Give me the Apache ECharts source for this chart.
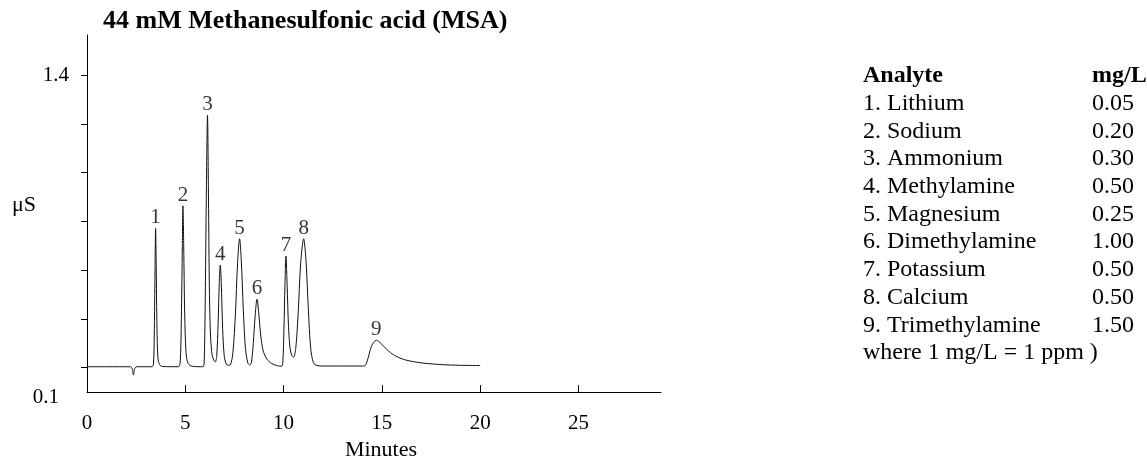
<!DOCTYPE html>
<html>
<head>
<meta charset="utf-8">
<script src="https://cdn.jsdelivr.net/npm/echarts@6/dist/echarts.min.js"></script>
<style>
  html, body { margin: 0; padding: 0; background: #fff; }
  #chart { width: 1147px; height: 466px; }
</style>
</head>
<body>
<div id="chart"></div>
<script>
// Cation separation with 44 mM MSA eluent: conductivity trace (µS) vs. retention time (min)
const chartTitle = '44 mM Methanesulfonic acid (MSA)';
const xAxisName = 'Minutes';
const yAxisName = 'μS';

// Detector trace, sampled along the run
const timeMin = [
  0.00, 1.00, 2.20, 2.30, 2.36, 2.42, 2.52,
  3.30, 3.38, 3.42, 3.46, 3.49, 3.52, 3.56, 3.61, 3.70, 3.85,
  4.65, 4.74, 4.80, 4.85, 4.88, 4.92, 4.97, 5.04, 5.14, 5.35,
  5.90, 5.96, 6.01, 6.07, 6.13, 6.18, 6.23, 6.29, 6.37, 6.47, 6.53,
  6.60, 6.67, 6.73, 6.78, 6.83, 6.90, 6.98, 7.08, 7.20,
  7.30, 7.42, 7.55, 7.66, 7.76, 7.85, 7.95, 8.06, 8.18, 8.28,
  8.36, 8.46, 8.56, 8.65, 8.73, 8.84, 8.96, 9.15, 9.40, 9.70, 9.90,
  9.96, 10.02, 10.07, 10.12, 10.18, 10.25, 10.33, 10.42, 10.51,
  10.62, 10.74, 10.87, 11.02, 11.14, 11.26, 11.38, 11.52, 11.70, 12.00,
  14.00, 14.15, 14.30, 14.48, 14.72, 14.95, 15.25, 15.65, 16.20, 17.00, 18.00, 19.00, 20.00
];
const signal = [
  0.204, 0.204, 0.204, 0.196, 0.170, 0.195, 0.204,
  0.204, 0.215, 0.330, 0.600, 0.772, 0.620, 0.360, 0.240, 0.212, 0.205,
  0.204, 0.220, 0.400, 0.700, 0.864, 0.700, 0.420, 0.260, 0.218, 0.206,
  0.204, 0.220, 0.450, 0.900, 1.235, 0.900, 0.500, 0.320, 0.250, 0.228, 0.224,
  0.250, 0.380, 0.550, 0.621, 0.550, 0.360, 0.250, 0.215, 0.210,
  0.212, 0.260, 0.420, 0.630, 0.729, 0.640, 0.440, 0.280, 0.220, 0.211,
  0.220, 0.300, 0.420, 0.482, 0.430, 0.330, 0.270, 0.235, 0.217, 0.208, 0.206,
  0.220, 0.360, 0.540, 0.658, 0.540, 0.370, 0.280, 0.250, 0.243,
  0.280, 0.420, 0.630, 0.729, 0.640, 0.440, 0.280, 0.220, 0.209, 0.207,
  0.207, 0.209, 0.240, 0.290, 0.313, 0.300, 0.275, 0.250, 0.232, 0.220, 0.213, 0.210, 0.209
];

// Peak identification
const peakNumbers = ['1', '2', '3', '4', '5', '6', '7', '8', '9'];
const peakTimes   = [3.49, 4.88, 6.13, 6.78, 7.76, 8.65, 10.12, 11.02, 14.72];
const peakHeights = [0.772, 0.864, 1.235, 0.621, 0.729, 0.482, 0.658, 0.729, 0.313];

// Axis ticks and labels
const xTickValues = [0, 5, 10, 15, 20, 25];
const yTickValues = [0.2, 0.4, 0.6, 0.8, 1.0, 1.2, 1.4];
const yLabelValues = [0.1, 1.4];

// Analyte table
const tableHeader = ['Analyte', 'mg/L'];
const analytes = [
  '1. Lithium', '2. Sodium', '3. Ammonium', '4. Methylamine', '5. Magnesium',
  '6. Dimethylamine', '7. Potassium', '8. Calcium', '9. Trimethylamine'
];
const concentrations = ['0.05', '0.20', '0.30', '0.50', '0.25', '1.00', '0.50', '0.50', '1.50'];
const tableNote = 'where 1 mg/L = 1 ppm )';

const serif = '"Liberation Serif", "Times New Roman", serif';
const ink = '#000';

const tableX = 863, valueX = 1092, tableTop = 76, rowStep = 27.7;
const tableFont = '24px ' + serif;
const tableBold = 'bold 24px ' + serif;
const overlay = [];
overlay.push({ type: 'text', x: tableX, y: tableTop,
  style: { text: tableHeader[0], font: tableBold, fill: ink, verticalAlign: 'middle' } });
overlay.push({ type: 'text', x: valueX, y: tableTop,
  style: { text: tableHeader[1], font: tableBold, fill: ink, verticalAlign: 'middle' } });
analytes.forEach((name, i) => {
  const y = tableTop + rowStep * (i + 1);
  overlay.push({ type: 'text', x: tableX, y: y,
    style: { text: name, font: tableFont, fill: ink, verticalAlign: 'middle' } });
  overlay.push({ type: 'text', x: valueX, y: y,
    style: { text: concentrations[i], font: tableFont, fill: ink, verticalAlign: 'middle' } });
});
overlay.push({ type: 'text', x: tableX, y: tableTop + rowStep * (analytes.length + 1),
  style: { text: tableNote, font: tableFont, fill: ink, verticalAlign: 'middle' } });

// y-axis unit
overlay.push({ type: 'text', x: 12, y: 205,
  style: { text: yAxisName, font: '22px ' + serif, fill: ink, verticalAlign: 'middle' } });

const chart = echarts.init(document.getElementById('chart'), null, { renderer: 'canvas' });
chart.setOption({
  animation: false,
  backgroundColor: '#fff',
  title: {
    text: chartTitle,
    left: 103, top: 8, padding: 0,
    textStyle: { fontFamily: serif, fontWeight: 'bold', fontSize: 26, color: ink }
  },
  grid: { left: 87, right: 486, top: 35, bottom: 69 },
  xAxis: {
    type: 'value',
    min: 0, max: 29.2, interval: 5,
    name: xAxisName,
    nameLocation: 'middle',
    nameGap: 45,
    nameTextStyle: { fontFamily: serif, fontSize: 22, color: ink, padding: [0, 0, 0, 14] },
    axisLine: { show: true, onZero: false, lineStyle: { color: ink, width: 1 } },
    axisTick: { show: true, inside: true, length: 7, customValues: xTickValues, lineStyle: { color: ink, width: 1 } },
    axisLabel: { customValues: xTickValues, margin: 21, fontFamily: serif, fontSize: 21, color: ink },
    splitLine: { show: false }
  },
  yAxis: {
    type: 'value',
    min: 0.1, max: 1.565,
    axisLine: { show: true, onZero: false, lineStyle: { color: ink, width: 1 } },
    axisTick: { show: true, inside: false, length: 6, customValues: yTickValues, lineStyle: { color: ink, width: 1 } },
    axisLabel: {
      customValues: yLabelValues,
      margin: 18,
      fontFamily: serif, fontSize: 21, color: ink,
      formatter: (v) => (v < 0.5 ? '{lo|' + v.toFixed(1) + '}' : '{hi|' + v.toFixed(1) + '}'),
      rich: {
        lo: { fontFamily: serif, fontSize: 21, color: ink, padding: [10, 10, 0, 0] },
        hi: { fontFamily: serif, fontSize: 21, color: ink }
      }
    },
    splitLine: { show: false }
  },
  graphic: overlay,
  series: [
    {
      type: 'line',
      data: timeMin.map((t, i) => [t, signal[i]]),
      showSymbol: false,
      smooth: 0.3,
      lineStyle: { color: '#111', width: 1 },
      silent: true
    },
    {
      type: 'scatter',
      data: peakTimes.map((t, i) => [t, peakHeights[i], peakNumbers[i]]),
      symbolSize: 0,
      silent: true,
      label: {
        show: true,
        position: 'top',
        distance: 0,
        formatter: (p) => p.data[2],
        fontFamily: serif, fontSize: 21, color: ink
      }
    }
  ]
});
</script>
</body>
</html>
